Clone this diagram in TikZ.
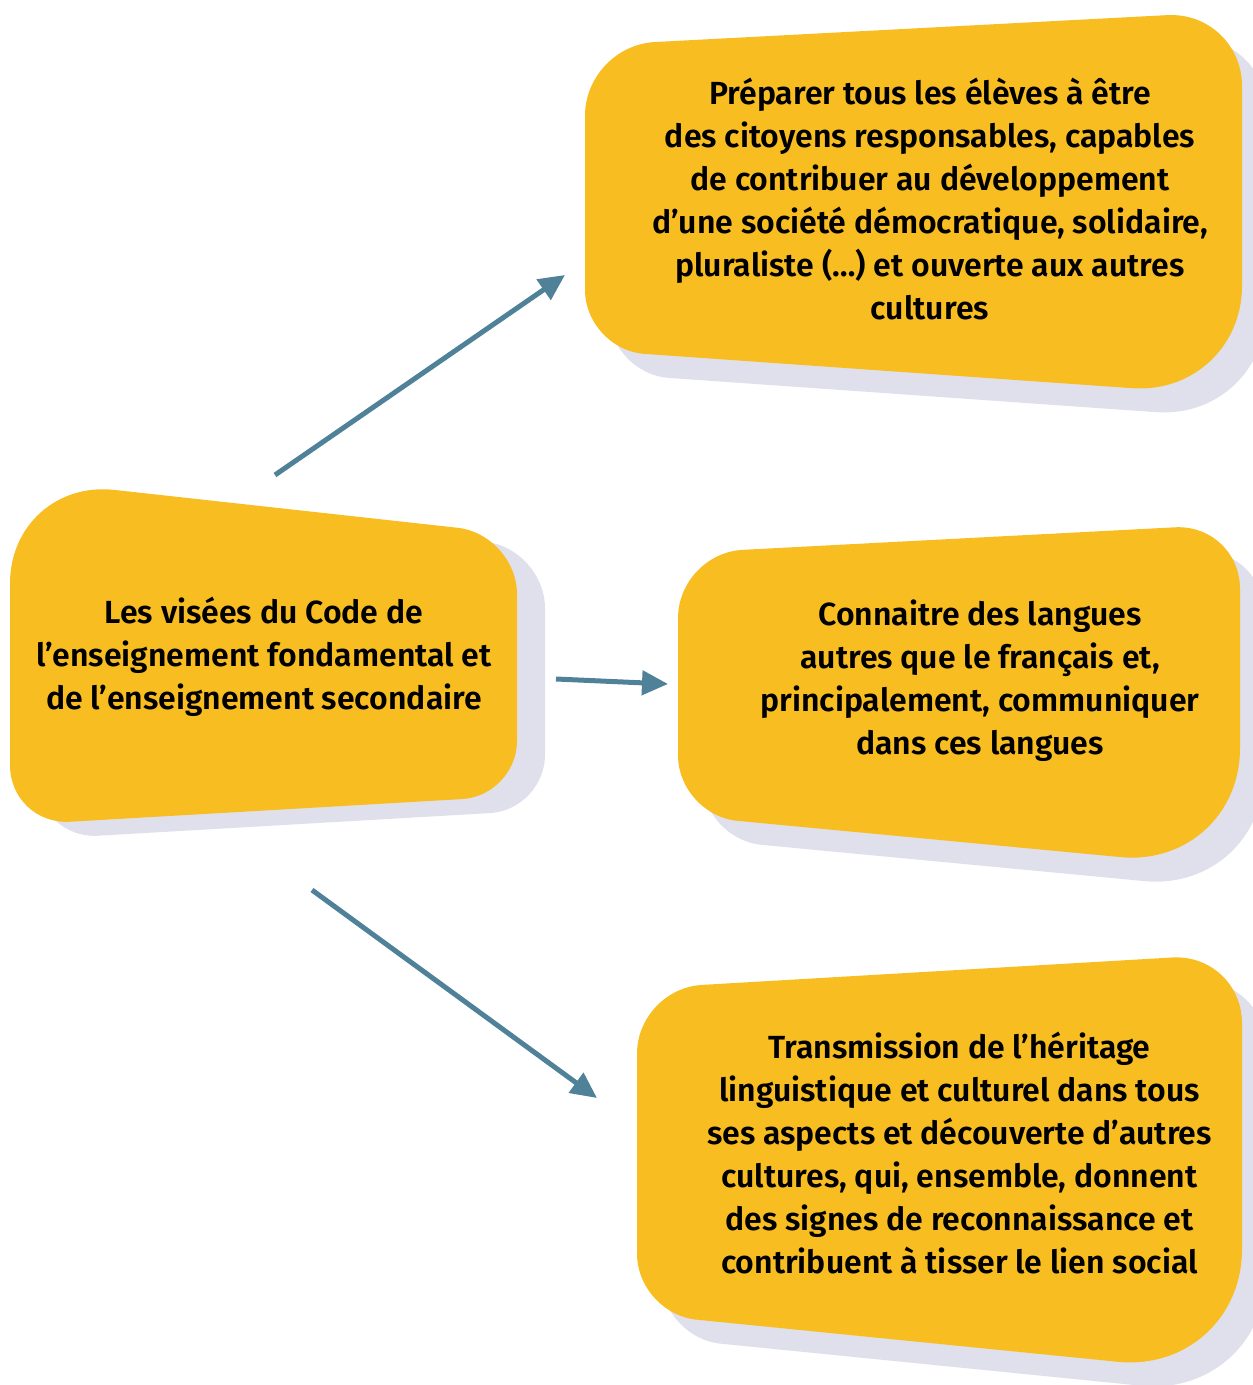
\documentclass[tikz,border=0pt]{standalone}
\usepackage{fontspec}
\setmainfont{Fira Sans}[BoldFont={Fira Sans SemiBold}]
\usetikzlibrary{calc,arrows.meta}
\definecolor{boxyellow}{HTML}{F8BD21}
\definecolor{shadecol}{HTML}{DFE0EC}
\definecolor{arrowblue}{HTML}{4F8199}
% #1 style, #2..#5 corners (TL,TR,BR,BL), #6..#9 radii
\newcommand\roundquad[9]{%
  \pgfmathsetmacro\cA{0.448*#6}\pgfmathsetmacro\cB{0.448*#7}%
  \pgfmathsetmacro\cC{0.448*#8}\pgfmathsetmacro\cD{0.448*#9}%
  \fill[#1] ($(#2)!#6pt!(#5)$) .. controls ($(#2)!\cA pt!(#5)$) and ($(#2)!\cA pt!(#3)$) .. ($(#2)!#6pt!(#3)$)
    -- ($(#3)!#7pt!(#2)$) .. controls ($(#3)!\cB pt!(#2)$) and ($(#3)!\cB pt!(#4)$) .. ($(#3)!#7pt!(#4)$)
    -- ($(#4)!#8pt!(#3)$) .. controls ($(#4)!\cC pt!(#3)$) and ($(#4)!\cC pt!(#5)$) .. ($(#4)!#8pt!(#5)$)
    -- ($(#5)!#9pt!(#4)$) .. controls ($(#5)!\cD pt!(#4)$) and ($(#5)!\cD pt!(#2)$) .. ($(#5)!#9pt!(#2)$)
    -- cycle;}
\tikzset{
  boxfill/.style={fill=boxyellow},
  shadowfill/.style={fill=shadecol},
  txt/.style={align=center, text=black, font=\bfseries\fontsize{32}{43}\selectfont, inner sep=0pt},
  conn/.style={draw=arrowblue, line width=5pt, -{Triangle[length=26pt,width=24pt]}}
}
\begin{document}
\begin{tikzpicture}[x=1pt,y=-1pt]
\useasboundingbox (0,0) rectangle (1253,1385);
% shadows
\begin{scope}[shift={(24,24)}]
\roundquad{shadowfill}{585,45.7}{1242,11.2}{1242,395.9}{585,349.7}{70}{75}{110}{60}
\roundquad{shadowfill}{678,553.2}{1240,523.9}{1240,868.4}{678,815.2}{65}{65}{120}{60}
\roundquad{shadowfill}{637,988.7}{1242,953.4}{1242,1374.2}{637,1313.7}{65}{70}{125}{60}
\end{scope}
\begin{scope}[shift={(28,14)}]
\roundquad{shadowfill}{10,478.4}{517,534.3}{517,795.9}{10,825.2}{105}{60}{55}{60}
\end{scope}
% boxes
\roundquad{boxfill}{585,45.7}{1242,11.2}{1242,395.9}{585,349.7}{70}{75}{110}{60}
\roundquad{boxfill}{678,553.2}{1240,523.9}{1240,868.4}{678,815.2}{65}{65}{120}{60}
\roundquad{boxfill}{637,988.7}{1242,953.4}{1242,1374.2}{637,1313.7}{65}{70}{125}{60}
\roundquad{boxfill}{10,478.4}{517,534.3}{517,795.9}{10,825.2}{105}{60}{55}{60}
% texts
\node[txt] (src) at (264,657) {Les visées du Code de\\l’enseignement fondamental et\\de l’enseignement secondaire};
\node[txt] (g1) at (930,199) {Préparer tous les élèves à être\\des citoyens responsables, capables\\de contribuer au développement\\d’une société démocratique, solidaire,\\pluraliste (…) et ouverte aux autres\\cultures};
\node[txt] (g2) at (980,680.5) {Connaitre des langues\\autres que le français et,\\principalement, communiquer\\dans ces langues};
\node[txt] (g3) at (959.5,1153.5) {Transmission de l’héritage\\linguistique et culturel dans tous\\ses aspects et découverte d’autres\\cultures, qui, ensemble, donnent\\des signes de reconnaissance et\\contribuent à tisser le lien social};
% connectors
\coordinate (a1s) at (275,475);
\coordinate (a1e) at (565,275);
\coordinate (a2s) at (556,679);
\coordinate (a2e) at (668,684);
\coordinate (a3s) at (312,890);
\coordinate (a3e) at (597,1098);
\draw[conn] (a1s) -- (a1e);
\draw[conn] (a2s) -- (a2e);
\draw[conn] (a3s) -- (a3e);
\end{tikzpicture}
\end{document}
